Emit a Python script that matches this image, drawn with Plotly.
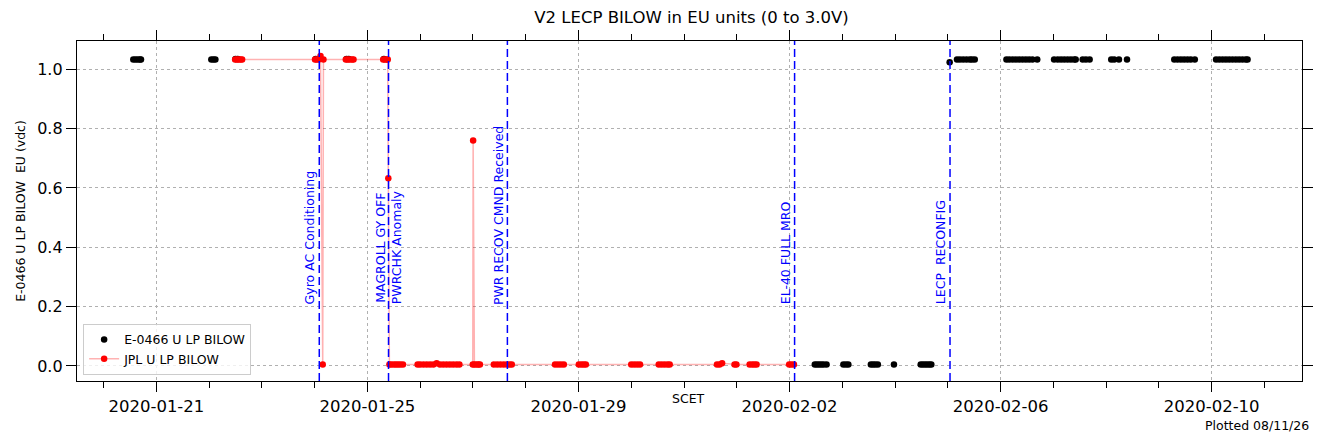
import plotly.graph_objects as go

# E-0466 U LP BILOW (black points)
e0466_time = [
    '2020-01-20 13:30', '2020-01-20 14:30', '2020-01-20 15:30', '2020-01-20 16:30', '2020-01-20 17:00',
    '2020-01-22 01:00', '2020-01-22 02:00', '2020-01-22 02:50',
    '2020-01-22 12:00', '2020-01-22 13:00', '2020-01-24 00:30',
    '2020-01-24 14:30', '2020-01-24 15:30', '2020-01-25 07:30',
    '2020-02-02 11:30', '2020-02-02 12:30', '2020-02-02 13:30', '2020-02-02 14:30', '2020-02-02 15:30', '2020-02-02 16:50',
    '2020-02-03 00:30', '2020-02-03 01:40', '2020-02-03 02:45',
    '2020-02-03 13:00', '2020-02-03 14:00', '2020-02-03 15:00', '2020-02-03 16:10',
    '2020-02-03 23:30',
    '2020-02-04 11:40', '2020-02-04 12:40', '2020-02-04 13:40', '2020-02-04 14:40', '2020-02-04 15:40', '2020-02-04 16:30',
    '2020-02-05 00:50',
    '2020-02-05 04:10', '2020-02-05 05:30', '2020-02-05 07:00', '2020-02-05 08:30', '2020-02-05 10:00', '2020-02-05 11:00', '2020-02-05 12:15',
    '2020-02-06 02:40', '2020-02-06 04:00', '2020-02-06 05:30', '2020-02-06 07:00', '2020-02-06 08:30',
    '2020-02-06 10:00', '2020-02-06 11:30', '2020-02-06 13:00', '2020-02-06 14:30', '2020-02-06 16:40',
    '2020-02-07 00:20', '2020-02-07 02:00', '2020-02-07 03:30', '2020-02-07 05:00', '2020-02-07 06:30',
    '2020-02-07 08:00', '2020-02-07 09:30', '2020-02-07 10:10', '2020-02-07 13:20', '2020-02-07 14:50', '2020-02-07 16:30',
    '2020-02-08 02:20', '2020-02-08 03:40', '2020-02-08 05:50', '2020-02-08 09:30',
    '2020-02-09 07:00', '2020-02-09 08:30', '2020-02-09 10:00', '2020-02-09 11:30', '2020-02-09 13:00', '2020-02-09 14:30', '2020-02-09 16:20',
    '2020-02-10 02:00', '2020-02-10 03:30', '2020-02-10 05:00', '2020-02-10 06:30', '2020-02-10 08:00', '2020-02-10 09:30',
    '2020-02-10 11:00', '2020-02-10 12:30', '2020-02-10 14:00', '2020-02-10 15:30', '2020-02-10 16:20',
]
e0466_val = (
    [1.033] * 8
    + [1.035] * 6
    + [0.005] * 20
    + [1.024]
    + [1.033] * 51
)

# JPL U LP BILOW (red points joined by a faint line)
jpl_time = [
    '2020-01-22 11:50', '2020-01-22 12:40', '2020-01-22 13:30', '2020-01-22 14:20', '2020-01-22 15:00',
    '2020-01-24 00:10', '2020-01-24 01:00', '2020-01-24 01:50', '2020-01-24 02:40', '2020-01-24 03:40', '2020-01-24 04:00',
    '2020-01-24 14:10', '2020-01-24 15:00', '2020-01-24 16:00', '2020-01-24 17:00', '2020-01-24 17:40',
    '2020-01-25 07:10', '2020-01-25 08:00', '2020-01-25 08:50', '2020-01-25 09:15', '2020-01-25 09:30', '2020-01-25 10:00',
    '2020-01-25 10:50', '2020-01-25 12:00', '2020-01-25 13:00', '2020-01-25 14:00', '2020-01-25 15:00', '2020-01-25 16:10',
    '2020-01-25 22:50', '2020-01-26 00:00', '2020-01-26 01:30', '2020-01-26 03:00', '2020-01-26 04:30', '2020-01-26 06:00',
    '2020-01-26 07:30', '2020-01-26 09:00', '2020-01-26 10:30', '2020-01-26 12:00', '2020-01-26 13:30', '2020-01-26 15:00',
    '2020-01-26 16:30', '2020-01-26 17:50',
    '2020-01-26 23:55', '2020-01-27 00:05', '2020-01-27 00:40', '2020-01-27 01:40', '2020-01-27 02:30', '2020-01-27 03:10',
    '2020-01-27 09:30', '2020-01-27 11:00', '2020-01-27 12:30', '2020-01-27 14:00', '2020-01-27 15:30', '2020-01-27 16:40', '2020-01-27 17:40',
    '2020-01-28 13:20', '2020-01-28 14:40', '2020-01-28 16:00', '2020-01-28 17:20',
    '2020-01-29 00:10', '2020-01-29 01:20', '2020-01-29 02:20', '2020-01-29 03:20',
    '2020-01-30 00:00', '2020-01-30 01:20', '2020-01-30 02:40', '2020-01-30 04:00',
    '2020-01-30 12:30', '2020-01-30 13:50', '2020-01-30 15:10', '2020-01-30 16:30', '2020-01-30 17:30',
    '2020-01-31 15:00', '2020-01-31 16:10', '2020-01-31 17:20',
    '2020-01-31 23:00', '2020-01-31 23:50',
    '2020-02-01 05:50', '2020-02-01 07:00', '2020-02-01 08:00', '2020-02-01 09:00',
    '2020-02-01 23:50', '2020-02-02 00:50', '2020-02-02 02:00',
]
jpl_val = (
    [1.033] * 5
    + [1.033, 1.033, 1.033, 1.045, 0.005, 1.033]
    + [1.033] * 5
    + [1.033, 1.033, 1.033, 1.033, 0.633, 0.005]
    + [0.005] * 6
    + [0.005] * 6 + [0.009] + [0.005] * 7
    + [0.005, 0.76, 0.005, 0.005, 0.005, 0.005]
    + [0.005] * 7
    + [0.005] * 4
    + [0.005] * 4
    + [0.005] * 4
    + [0.005] * 5
    + [0.005, 0.005, 0.009]
    + [0.005] * 2
    + [0.005] * 4
    + [0.005] * 3
)

# event markers
event_time = ['2020-01-24 02:06', '2020-01-25 09:36', '2020-01-27 15:40', '2020-02-02 02:18', '2020-02-05 01:00']
event_text = ['Gyro AC Conditioning', 'MAGROLL GY OFF<br>PWRCHK Anomaly', 'PWR RECOV CMND Received',
              'EL-40 FULL MRO', 'LECP  RECONFIG']
event_anchor = ['right', 'center', 'right', 'right', 'right']

font = 'DejaVu Sans'

fig = go.Figure()
fig.add_trace(go.Scatter(x=e0466_time, y=e0466_val, mode='markers', name='E-0466 U LP BILOW',
                         marker=dict(color='black', size=6.5)))
fig.add_trace(go.Scatter(x=jpl_time, y=jpl_val, mode='lines+markers', name='JPL U LP BILOW',
                         line=dict(color='rgba(255,0,0,0.3)', width=1.5),
                         marker=dict(color='red', size=6.5)))

for t, txt, anc in zip(event_time, event_text, event_anchor):
    fig.add_shape(type='line', xref='x', yref='paper', x0=t, x1=t, y0=0, y1=1,
                  line=dict(color='blue', width=1.5, dash='8px,4px'), layer='above')
    fig.add_annotation(x=t, y=0.2, xref='x', yref='y', text=txt, textangle=-90,
                       xanchor=anc, yanchor='bottom', showarrow=False,
                       font=dict(family=font, size=12.5, color='blue'))

fig.add_annotation(x=0.499, y=-0.05, xref='paper', yref='paper', text='SCET', showarrow=False,
                   yanchor='middle', font=dict(family=font, size=12.5, color='black'))
fig.add_annotation(x=1.0073, y=-0.132, xref='paper', yref='paper', text='Plotted 08/11/26',
                   showarrow=False, xanchor='right', yanchor='middle',
                   font=dict(family=font, size=12.5, color='black'))

# page body keeps an 8px margin, so the figure is sized to fit inside it
fig.update_layout(
    width=1317, height=428,
    margin=dict(l=65, r=12, t=33, b=55),
    paper_bgcolor='white', plot_bgcolor='white',
    font=dict(family=font, color='black'),
    title=dict(text='V2 LECP BILOW in EU units (0 to 3.0V)', x=0.519, xanchor='center',
               y=0.979, yanchor='middle', font=dict(size=16.5)),
    legend=dict(x=0.005, y=0.018, xanchor='left', yanchor='bottom', bgcolor='rgba(255,255,255,0.8)',
                bordercolor='#cccccc', borderwidth=1, font=dict(size=12.5)),
    showlegend=True,
)
fig.update_xaxes(
    range=['2020-01-19 11:54', '2020-02-11 17:06'],
    tick0='2020-01-21', dtick=4 * 86400000, tickformat='%Y-%m-%d',
    ticks='outside', ticklen=10, tickwidth=1.3, tickcolor='black',
    tickfont=dict(size=16.5),
    minor=dict(dtick=86400000, ticks='outside', ticklen=6, tickwidth=1.1, tickcolor='black', showgrid=False),
    showline=True, linecolor='black', linewidth=1.3, mirror='ticks',
    showgrid=True, gridcolor='#b0b0b0', griddash='dot', gridwidth=1,
    zeroline=False,
)
fig.update_yaxes(
    range=[-0.0506, 1.0954],
    tick0=0, dtick=0.2, tickformat='.1f',
    ticks='outside', ticklen=10, tickwidth=1.3, tickcolor='black',
    tickfont=dict(size=16),
    showline=True, linecolor='black', linewidth=1.3, mirror='ticks',
    showgrid=True, gridcolor='#b0b0b0', griddash='dot', gridwidth=1,
    zeroline=False,
    title=dict(text='E-0466 U LP BILOW  EU (vdc)', font=dict(size=12.5), standoff=8),
)

fig.write_html('out.html')
